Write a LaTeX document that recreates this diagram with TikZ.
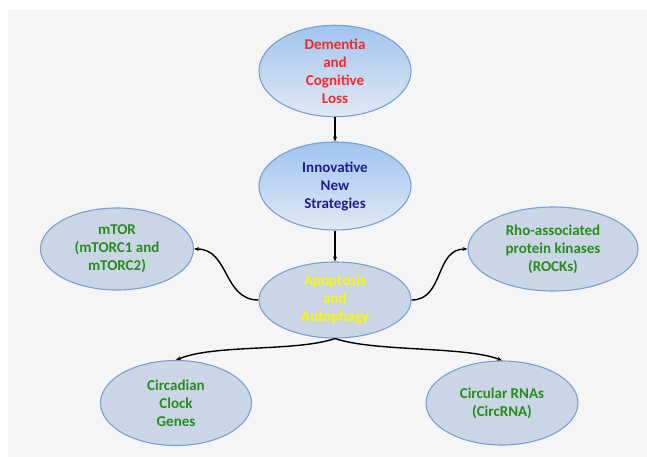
\documentclass[tikz,border=0pt]{standalone}
\usepackage{fontspec}
\setmainfont{Carlito}[BoldFont={Carlito Bold}]
\usetikzlibrary{shapes.geometric,arrows.meta}
\definecolor{pagebg}{RGB}{245,245,245}
\definecolor{rimblue}{RGB}{120,160,210}
\definecolor{flatfill}{RGB}{202,214,230}
\definecolor{shadetop}{RGB}{160,196,240}
\definecolor{shadebot}{RGB}{226,233,243}
\definecolor{txtred}{RGB}{250,40,40}
\definecolor{txtnavy}{RGB}{30,30,140}
\definecolor{txtgreen}{RGB}{40,140,30}
\definecolor{txtyellow}{RGB}{250,250,10}
\tikzset{
  bubble/.style={ellipse, draw=rimblue, line width=1.1pt, fill=flatfill,
    inner sep=0pt, align=center,
    font=\fontsize{15}{18}\selectfont\bfseries},
  topbubble/.style={bubble, top color=shadetop, bottom color=shadebot},
  link/.style={line width=1.4pt, black, -{Stealth[length=5pt,width=4pt]}},
}
\begin{document}
\begin{tikzpicture}[x=1pt,y=-1pt]
  % page and panel
  \fill[white] (0,0) rectangle (647,457);
  \fill[pagebg] (8,10) rectangle (647,457);
  \useasboundingbox (0,0) rectangle (647,457);

  % bubbles
  \node[topbubble, minimum width=152pt, minimum height=88pt, text=txtred]
    (dem) at (335,71) {Dementia\\and\\Cognitive\\Loss};
  \node[topbubble, minimum width=152pt, minimum height=88pt, text=txtnavy]
    (inn) at (335,186) {Innovative\\New\\Strategies};
  \node[bubble, minimum width=152pt, minimum height=76pt, text=txtyellow]
    (apo) at (335,300) {Apoptosis\\and\\Autophagy};
  \node[bubble, minimum width=153pt, minimum height=82pt, text=txtgreen]
    (mtor) at (117,249) {mTOR\\(mTORC1 and\\mTORC2)};
  \node[bubble, minimum width=170pt, minimum height=84pt, text=txtgreen]
    (rho) at (553,249) {Rho-associated\\protein kinases\\(ROCKs)};
  \node[bubble, minimum width=151pt, minimum height=85pt, text=txtgreen]
    (clock) at (176,403) {Circadian\\Clock\\Genes};
  \node[bubble, minimum width=152pt, minimum height=84pt, text=txtgreen]
    (circ) at (502,403) {Circular RNAs\\(CircRNA)};

  % connectors
  \draw[link] (dem.south) -- (inn.north);
  \draw[link] (inn.south) -- (apo.north);
  \draw[link] (apo.west) to[out=180, in=0, looseness=1.1] (mtor.east);
  \draw[link] (apo.east) to[out=0, in=180, looseness=1.1] (rho.west);
  \draw[link] (apo.south) .. controls (295,352) and (215,344) .. (clock.north);
  \draw[link] (apo.south) .. controls (375,352) and (465,346) .. (circ.north);
\end{tikzpicture}
\end{document}
